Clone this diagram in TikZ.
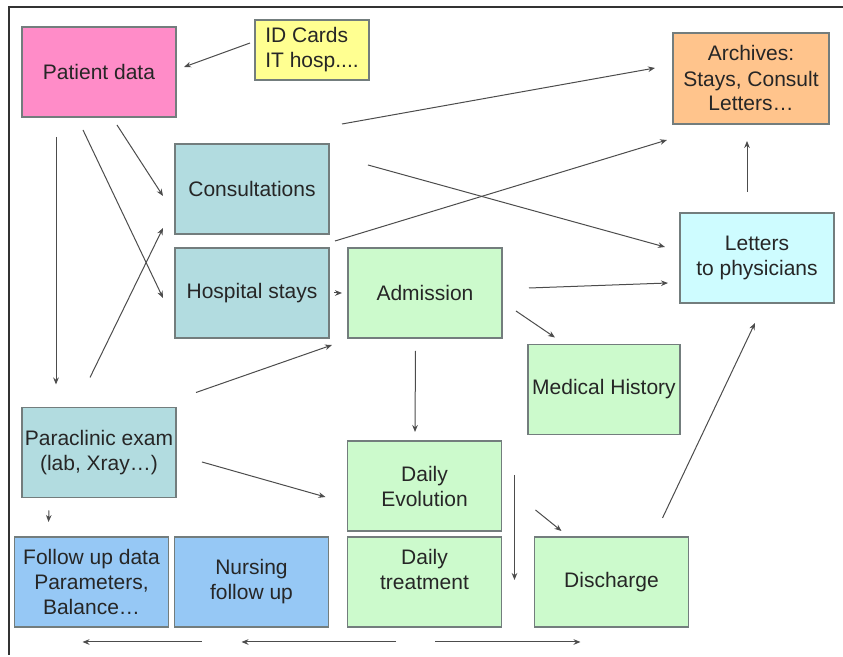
\documentclass[tikz,border=0pt]{standalone}
\usepackage{fontspec}
\setmainfont{Liberation Sans}
\usepackage{xcolor}
\usepackage{tikz}
\usetikzlibrary{positioning, arrows.meta}

\definecolor{pinkfill}{RGB}{255,140,200}
\definecolor{yellowfill}{RGB}{255,255,145}
\definecolor{orangefill}{RGB}{255,196,140}
\definecolor{tealfill}{RGB}{178,220,224}
\definecolor{greenfill}{RGB}{204,250,204}
\definecolor{cyanfill}{RGB}{206,252,255}
\definecolor{bluefill}{RGB}{150,200,245}
\definecolor{edgegray}{RGB}{115,125,125}

\begin{document}
\begin{tikzpicture}[
    x=0.5pt, y=-0.5pt,
    box/.style={rectangle, draw=edgegray, line width=0.8pt, minimum width=77pt, minimum height=45pt, inner sep=0pt, outer sep=0pt, align=center, text=black!85, font=\fontsize{10.5}{12.5}\selectfont},
    arrow/.style={-{Stealth[length=3.5pt, width=2.8pt]}, line width=0.5pt, draw=black!70}
]
\useasboundingbox (0,0) rectangle (843,657);

% Frame
\draw[line width=1pt, black!80] (843,7) -- (9,7) -- (9,655);

% Sources
\node[box, fill=pinkfill] (pat) at (99,72) {Patient data};
\node[box, fill=yellowfill, minimum width=57pt, minimum height=30pt, align=left] (id) at (312,50) {ID Cards\\IT hosp....};
\node[box, fill=orangefill, minimum width=78pt, minimum height=45.5pt] (arch) at (751,78.5) {Archives:\\Stays, Consult\\Letters…};

% Stays
\node[box, fill=tealfill] (cons) at (252,189) {Consultations};
\node[box, fill=tealfill, below=7pt of cons] (hosp) {Hospital stays};
\node[box, fill=greenfill, right=9.5pt of hosp] (adm) {Admission};
\node[box, fill=cyanfill] (let) at (757,258) {Letters\\to physicians};
\node[box, fill=greenfill, minimum width=76pt] (hist) at (604,389.5) {Medical History};
\node[box, fill=tealfill] (para) at (99,452.5) {Paraclinic exam\\(lab, Xray…)};

% Daily care
\node[box, fill=greenfill] (evol) at (424.5,486) {Daily\\Evolution};
\node[box, fill=greenfill, below=3pt of evol] (treat) {Daily\\treatment\\~};
\node[box, fill=bluefill, left=9.5pt of treat] (nurse) {Nursing\\follow up};
\node[box, fill=bluefill, left=3pt of nurse] (fol) {Follow up data\\Parameters,\\Balance…};
\node[box, fill=greenfill, right=16.5pt of treat] (dis) {Discharge};

% Arrows
\draw[arrow] ([shift={(-5,-7)}]id.west) -- ([shift={(8,-5)}]pat.east);
\draw[arrow] ([shift={(13,-20)}]cons.north east) -- ([shift={(-18,-10.5)}]arch.west);
\draw[arrow] ([shift={(39,-24)}]cons.east) -- ([shift={(-15,-11)}]let.west);
\draw[arrow] ([shift={(6,-7)}]hosp.north east) -- ([shift={(-6,16)}]arch.south west);

\draw[arrow] ([shift={(18,8)}]pat.south) -- ([shift={(-12,7)}]cons.west);
\draw[arrow] ([shift={(-16,13)}]pat.south) -- ([shift={(-12,5)}]hosp.west);
\draw[arrow] ([shift={(-43,20)}]pat.south) -- ([shift={(-43,-23)}]para.north);

\draw[arrow] ([shift={(-9,-30)}]para.north) -- ([shift={(-12,-6)}]cons.south west);
\draw[arrow] ([shift={(20,-15)}]para.north east) -- ([shift={(-16,7)}]adm.south west);
\draw[arrow] ([shift={(26,9.5)}]para.east) -- ([shift={(-22,11)}]evol.west);
\draw[arrow] ([shift={(-50,13)}]para.south) -- ([shift={(-43,-15)}]fol.north);

\draw[arrow] ([shift={(5,0)}]hosp.east) -- ([shift={(-6,0)}]adm.west);
\draw[arrow] ([shift={(27,-5)}]adm.east) -- ([shift={(-12,25)}]let.west);
\draw[arrow] ([shift={(14,18)}]adm.east) -- ([shift={(-49,-7)}]hist.north);
\draw[arrow] ([shift={(-9.5,13)}]adm.south) -- ([shift={(-9.5,-9)}]evol.north);

\draw[arrow] ([shift={(13,-11)}]evol.east) -- ([shift={(13,-2)}]treat.east);
\draw[arrow] ([shift={(34,24)}]evol.east) -- ([shift={(-50,-6)}]dis.north);
\draw[arrow] ([shift={(-26,-19)}]dis.north east) -- ([shift={(-2,20)}]let.south);
\draw[arrow] ([shift={(-10,-21)}]let.north) -- ([shift={(-4,17)}]arch.south);

\draw[arrow] ([shift={(-50,15)}]nurse.south) -- ([shift={(-9,15)}]fol.south);
\draw[arrow] ([shift={(-28.5,15)}]treat.south) -- ([shift={(-10,15)}]nurse.south);
\draw[arrow] ([shift={(10.5,15)}]treat.south) -- ([shift={(-31,15)}]dis.south);

\end{tikzpicture}
\end{document}
